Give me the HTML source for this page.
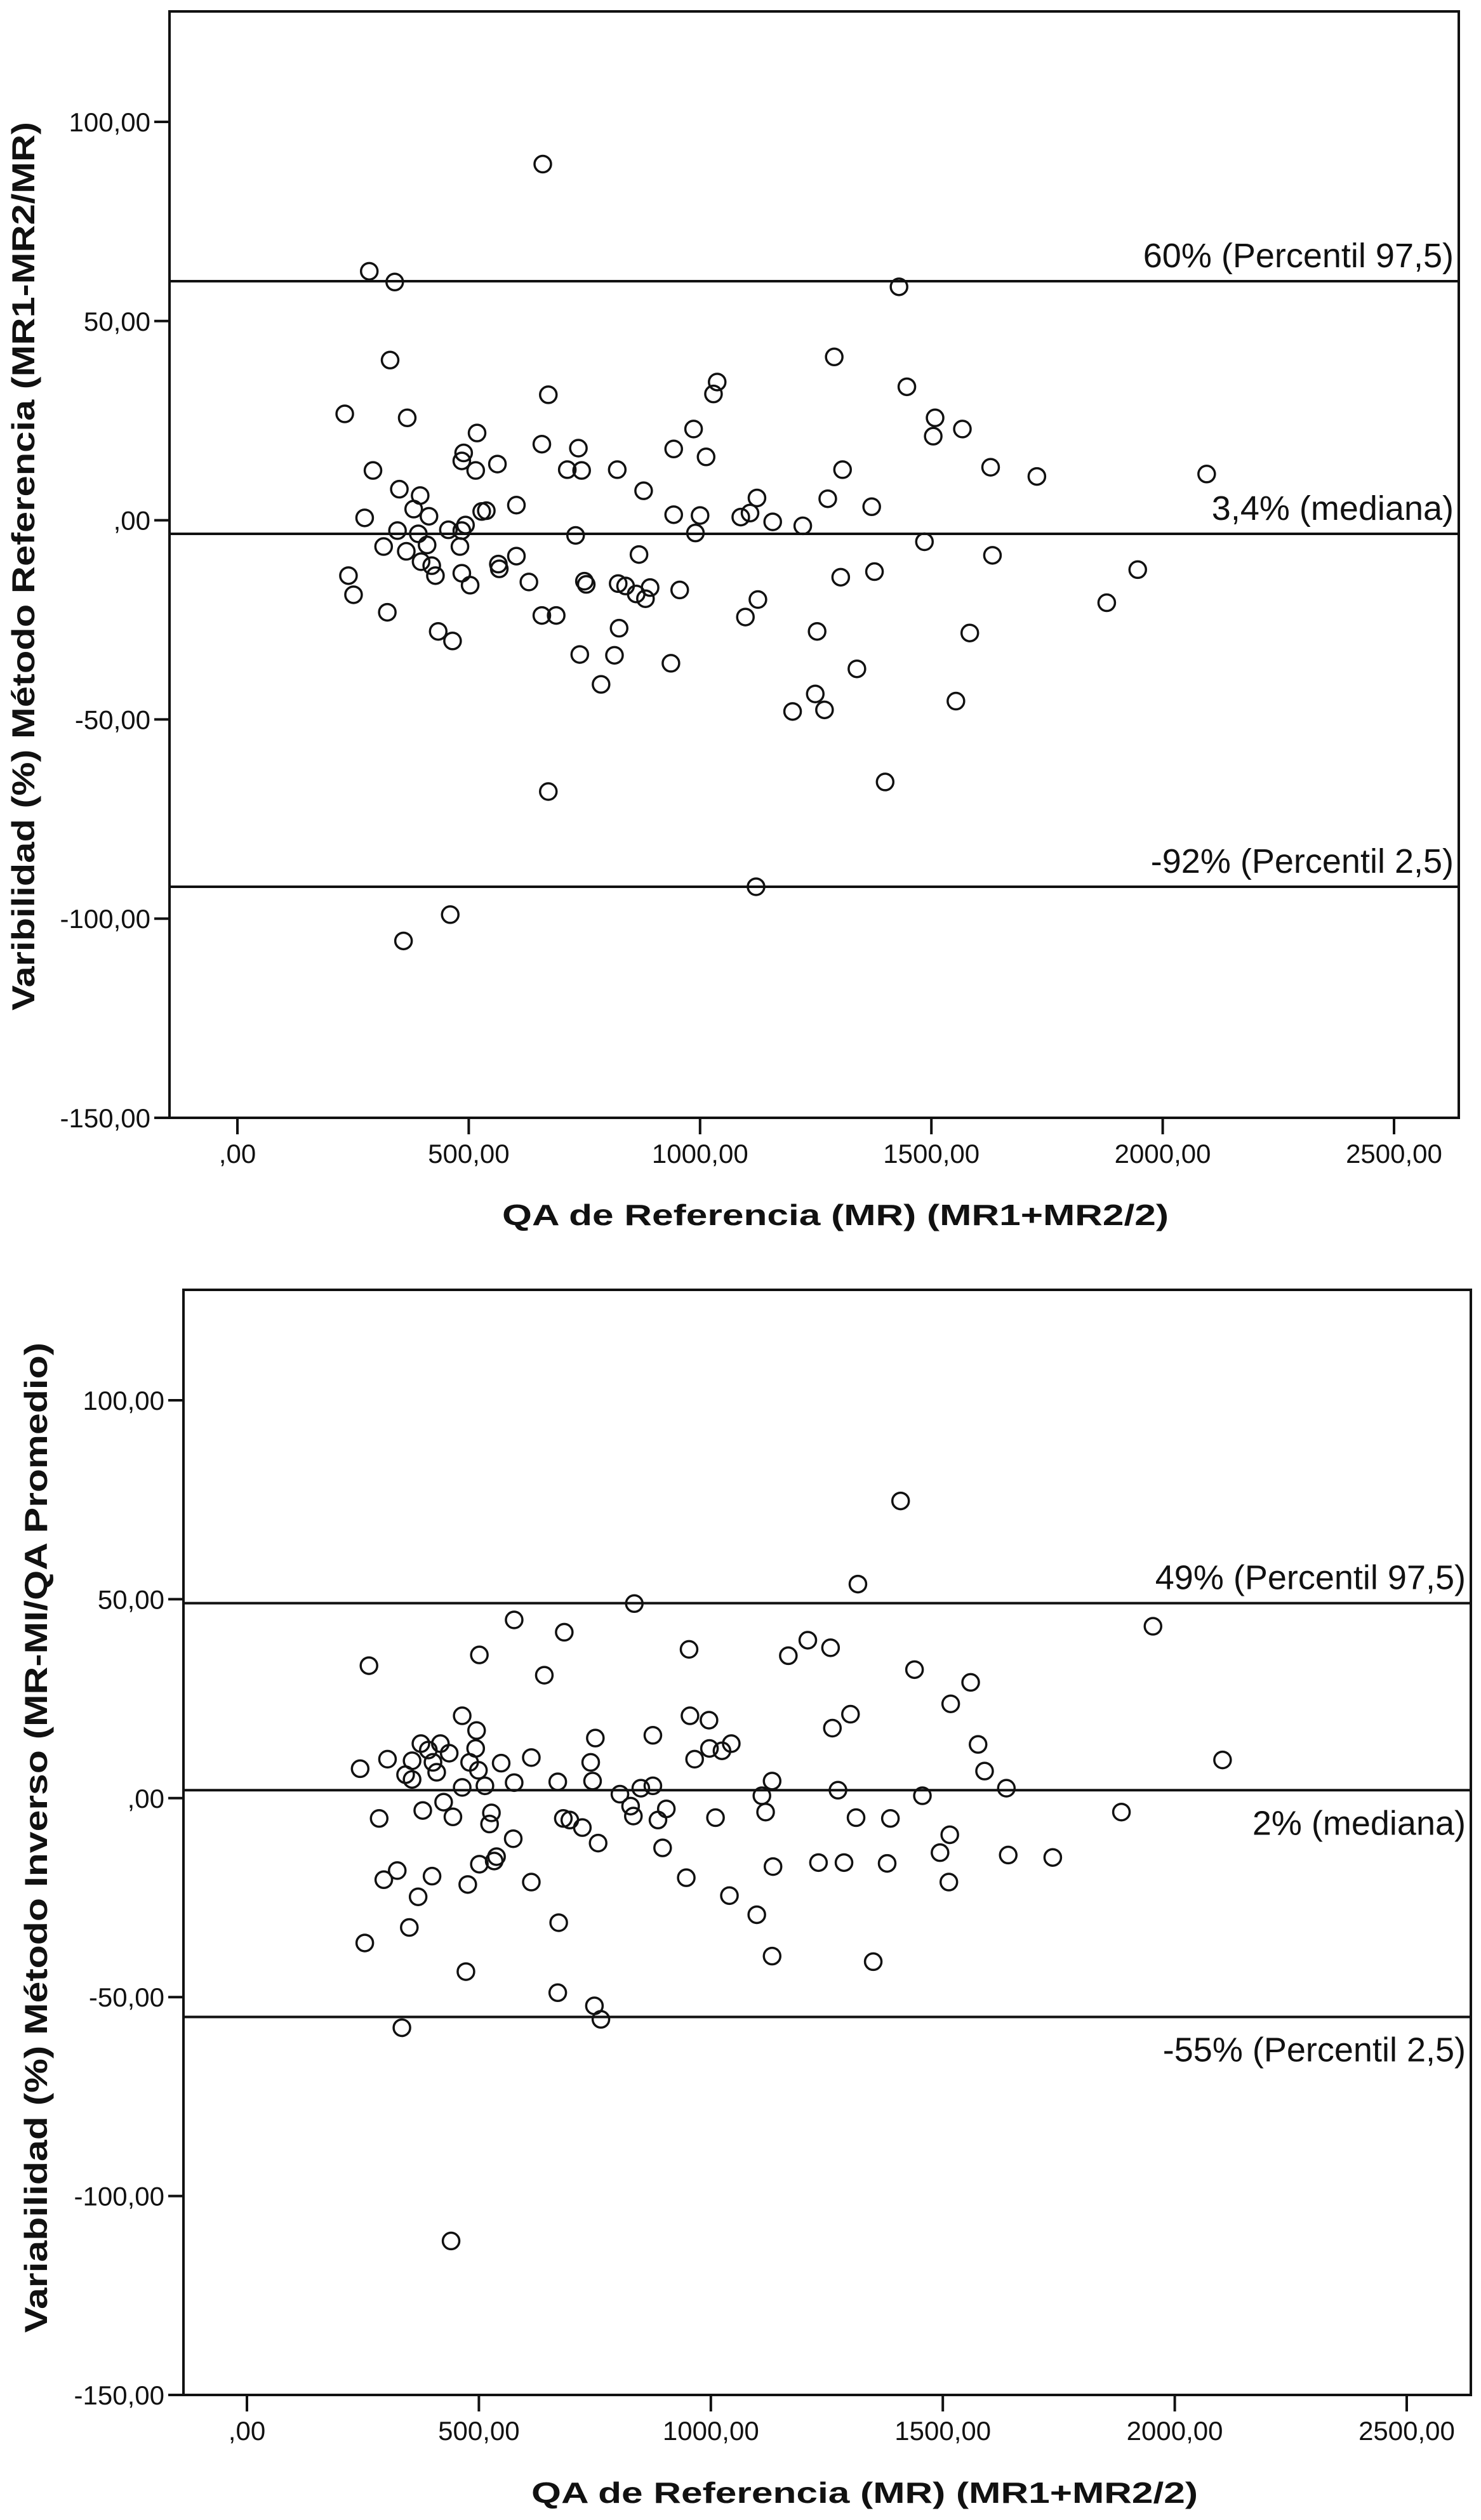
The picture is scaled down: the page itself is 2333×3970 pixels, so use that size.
<!DOCTYPE html>
<html><head><meta charset="utf-8">
<style>
html,body{margin:0;padding:0;background:#fff;}
svg{display:block;}
text{font-family:"Liberation Sans",Arial,sans-serif;fill:#111;}
.tick{font-size:42px;}
.title{font-size:46px;font-weight:bold;}
.ytitle{font-size:50px;font-weight:bold;}
.ref{font-size:54px;}
</style></head>
<body>
<svg id="chart" width="2333" height="3970" viewBox="0 0 2333 3970" xmlns="http://www.w3.org/2000/svg">
<rect x="0" y="0" width="2333" height="3970" fill="#fff"/>
</svg>
<script>
// ---------- data ----------
const xTickValues = [0, 500, 1000, 1500, 2000, 2500];
const xTickLabels = [",00", "500,00", "1000,00", "1500,00", "2000,00", "2500,00"];
const yTickValues = [100, 50, 0, -50, -100, -150];
const yTickLabels = ["100,00", "50,00", ",00", "-50,00", "-100,00", "-150,00"];

const refValues1 = [60, -3.4, -92];
const refLabels1 = ["60% (Percentil 97,5)", "3,4% (mediana)", "-92% (Percentil 2,5)"];
const refValues2 = [49, 2, -55];
const refLabels2 = ["49% (Percentil 97,5)", "2% (mediana)", "-55% (Percentil 2,5)"];

const xs1 = [660,285,340,1430,330,1290,1037,1029,1447,672,232,367,1508,1504,1567,518,986,658,737,943,489,1013,485,562,293,515,713,744,821,1308,1628,1728,2095,350,395,878,1123,1276,603,1371,381,528,538,943,1000,1088,1108,275,414,1157,1222,456,346,391,485,493,731,990,1485,316,410,481,365,603,868,1632,397,420,564,566,1377,1946,240,485,428,1304,630,750,754,823,839,503,892,862,956,882,251,1125,1879,324,658,689,1098,434,825,1253,1583,465,740,815,937,1339,786,1553,1249,1269,1200,672,1400,1121,460,359];
const ys1 = [89.4,62.5,59.8,58.6,40.2,41.0,34.7,31.7,33.5,31.5,26.7,25.7,25.7,21.1,22.9,21.9,22.9,19.1,18.1,17.9,16.9,15.9,14.9,14.1,12.5,12.5,12.7,12.5,12.7,12.7,13.3,11.0,11.6,7.8,6.2,7.4,5.6,5.4,3.8,3.4,2.8,2.2,2.4,1.4,1.2,0.8,1.8,0.6,1.0,-0.4,-1.4,-2.4,-2.6,-3.4,-2.6,-1.2,-3.8,-3.2,-5.4,-6.6,-6.2,-6.6,-7.8,-9.0,-8.6,-8.8,-10.4,-11.4,-11.0,-12.2,-12.9,-12.4,-13.9,-13.3,-13.9,-14.3,-15.5,-15.3,-16.1,-15.9,-16.5,-16.3,-16.9,-18.5,-17.5,-19.7,-18.7,-19.9,-20.7,-23.1,-23.9,-23.9,-24.3,-27.9,-27.1,-27.9,-28.3,-30.3,-33.7,-33.9,-35.9,-37.3,-41.2,-45.4,-43.6,-47.6,-48.0,-68.1,-65.7,-92.0,-99.0,-105.6];

const xs2 = [1409,1317,835,1953,576,684,1209,1258,953,501,1167,263,1439,641,1560,1517,1301,464,955,996,495,1262,875,751,1576,375,417,1044,997,1024,391,493,436,303,356,2103,965,613,741,401,480,548,244,1590,409,342,356,499,576,670,745,1132,513,464,849,875,1637,1274,804,1110,1456,827,904,424,379,1118,1885,833,285,444,527,682,696,886,1010,1313,1387,523,723,1515,574,757,896,1494,1641,1737,538,533,501,1232,1287,1380,1134,324,399,295,613,947,1513,476,369,1040,1099,672,350,254,1132,1350,472,670,749,763,334,440];
const ys2 = [74.7,53.8,48.9,43.2,44.8,41.7,39.7,37.8,37.4,36.0,35.8,33.3,32.3,30.9,29.1,23.7,21.1,20.7,20.7,19.6,17.0,17.6,15.8,15.1,13.5,13.7,13.7,13.7,12.5,11.9,12.1,12.5,11.3,9.8,9.4,9.6,9.8,10.2,9.0,9.0,9.0,8.8,7.4,6.8,6.5,5.9,4.7,7.0,3.9,4.1,4.3,4.3,3.1,2.7,2.5,3.1,2.5,2.0,1.0,0.6,0.6,-2.0,-2.7,-1.0,-3.1,-3.5,-3.5,-4.5,-5.1,-4.7,-3.7,-5.1,-5.5,-5.5,-4.9,-4.9,-5.1,-6.5,-7.4,-9.2,-10.2,-11.3,-12.5,-13.7,-14.3,-14.9,-14.7,-15.8,-16.6,-16.2,-16.2,-16.4,-17.2,-18.2,-19.6,-20.5,-21.1,-20.0,-21.1,-21.7,-24.8,-24.5,-29.3,-31.3,-32.5,-36.4,-39.7,-41.1,-43.6,-48.9,-52.2,-55.6,-57.7,-111.3];

// ---------- drawing ----------
const NS = "http://www.w3.org/2000/svg";
const svg = document.getElementById("chart");
function mk(tag, attrs, parent) {
  const e = document.createElementNS(NS, tag);
  for (const k in attrs) e.setAttribute(k, attrs[k]);
  (parent || svg).appendChild(e);
  return e;
}

function drawChart(o, xs, ys, refVals, refLabs) {
  const g = mk("g", {});
  
  
  const xScale = v => o.x0 + (v / 2500) * (o.x2500 - o.x0);
  const yScale = v => o.y100 + (100 - v) * (o.bottom - o.y100) / 250;

  const frame = mk("rect", {x: o.left, y: o.top, width: o.right - o.left, height: o.bottom - o.top, fill: "none", stroke: "#111", "stroke-width": 4}, g);
  
  

  yTickValues.forEach((v, i) => {
    const y = yScale(v);
    const t = mk("line", {x1: o.left - 24, x2: o.left, y1: y, y2: y, stroke: "#111", "stroke-width": 4}, g);
    
    
    const l = mk("text", {x: o.left - 30, y: y + 15, "text-anchor": "end", class: "tick"}, g);
    l.textContent = yTickLabels[i];
    
    
  });
  xTickValues.forEach((v, i) => {
    const x = xScale(v);
    const t = mk("line", {x1: x, x2: x, y1: o.bottom, y2: o.bottom + 26, stroke: "#111", "stroke-width": 4}, g);
    
    
    const l = mk("text", {x: x, y: o.bottom + 71, "text-anchor": "middle", class: "tick"}, g);
    l.textContent = xTickLabels[i];
    
    
  });

  refVals.forEach((v, i) => {
    const y = yScale(v);
    const ln = mk("line", {x1: o.left, x2: o.right, y1: y, y2: y, stroke: "#111", "stroke-width": 4}, g);
    
    
    const below = o.labelBelow[i];
    const tx = mk("text", {x: o.right - 8, y: below ? y + 70 : y - 22, "text-anchor": "end", class: "ref"}, g);
    tx.textContent = refLabs[i];
    
    
  });

  xs.forEach((xv, i) => {
    const c = mk("circle", {cx: xScale(xv), cy: yScale(ys[i]), r: 13, fill: "none", stroke: "#111", "stroke-width": 3.5}, g);
    
    
  });

  const xt = mk("text", {x: o.xTitleX, y: o.xTitleY, "text-anchor": "middle", class: "title", textLength: o.xTitleLen, lengthAdjust: "spacingAndGlyphs"}, g);
  xt.textContent = "QA de Referencia (MR) (MR1+MR2/2)";
  
  

  const yt = mk("text", {x: 0, y: 0, "text-anchor": "middle", class: "ytitle", transform: "translate(" + o.yTitleX + "," + o.yTitleY + ") rotate(-90)", textLength: o.yTitleLen, lengthAdjust: "spacingAndGlyphs"}, g);
  yt.textContent = o.yTitle;
  
  
}

drawChart({name: "chart-referencia", left: 267, right: 2298, top: 18, bottom: 1761, y100: 192, x0: 374, x2500: 2196,
  labelBelow: [false, false, false], xTitleX: 1316, xTitleY: 1930, xTitleLen: 1050,
  yTitleX: 54, yTitleY: 892, yTitleLen: 1400,
  yTitle: "Varibilidad (%) Método Referencia (MR1-MR2/MR)"}, xs1, ys1, refValues1, refLabels1);

drawChart({name: "chart-inverso", left: 289, right: 2317, top: 2032, bottom: 3773, y100: 2206, x0: 389, x2500: 2216,
  labelBelow: [false, true, true], xTitleX: 1362, xTitleY: 3943, xTitleLen: 1050,
  yTitleX: 74, yTitleY: 2895, yTitleLen: 1560,
  yTitle: "Variabilidad (%) Método Inverso  (MR-MI/QA Promedio)"}, xs2, ys2, refValues2, refLabels2);
</script>
</body></html>
